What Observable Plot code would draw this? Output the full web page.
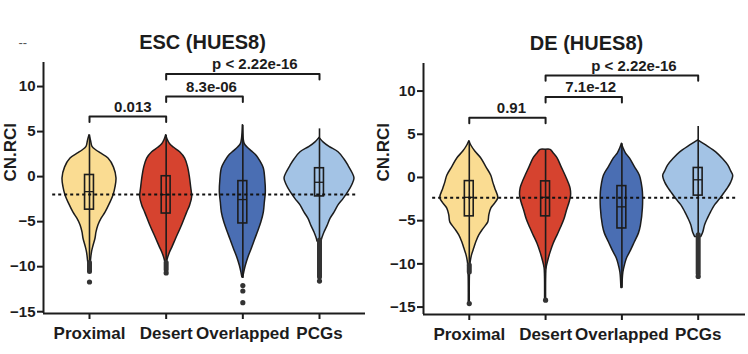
<!DOCTYPE html>
<html>
<head>
<meta charset="utf-8">
<script src="https://cdn.jsdelivr.net/npm/d3@7"></script>
<script src="https://cdn.jsdelivr.net/npm/@observablehq/plot@0.6"></script>
<style>
  html, body { margin: 0; padding: 0; background: #fff; }
  #wrap { display: flex; width: 748px; height: 354px; overflow: hidden; }
  #wrap > div { width: 374px; height: 354px; }
</style>
</head>
<body>
<div id="wrap"><div id="esc"></div><div id="de"></div></div>
<script>
// ---------- shared ----------
const categories = ["Proximal", "Desert", "Overlapped", "PCGs"];
const fills = ["#FADC92", "#D6432F", "#4A6EB3", "#A3C3E5"];
const yTicks = [-15, -10, -5, 0, 5, 10];

// ---------- ESC (HUES8) ----------
// violin profiles: [CN.RCI value, relative density (half width)]
const escProximal = [[4.6,0],[4.0,1.5],[3.3,3],[2.9,7],[2.6,11],[2.0,19],[1.0,24.5],[-0.2,27],[-1.2,26],[-2.1,24],[-3.0,20.5],[-4.0,16],[-4.7,12],[-5.4,9],[-6.2,7],[-6.9,6],[-7.7,4],[-8.4,2.5],[-9.3,1.5],[-10.3,0.5]];
const escDesert = [[4.6,0],[4.1,1.5],[3.6,4],[3.2,8],[2.7,14],[2.0,19],[1.0,22],[0.1,23.5],[-1.2,25],[-2.3,26],[-3.2,24],[-4.0,21],[-5.4,16],[-6.9,10],[-7.8,6.5],[-8.4,4],[-9.2,1.5],[-9.8,0.5]];
const escOverlapped = [[5.7,0],[4.2,0.8],[3.6,2],[3.2,5],[2.8,9],[2.3,14],[1.6,18],[0.9,21],[-0.4,22.5],[-1.8,23],[-2.9,22],[-4.0,21],[-5.1,18.5],[-6.2,15],[-7.1,12],[-8.0,9],[-9.0,5.5],[-9.9,3],[-10.6,1.5],[-11.2,0.5]];
const escPCGs = [[4.3,0],[3.8,4],[3.3,10],[2.7,19],[1.9,25],[1.2,29],[0.4,33],[-0.2,35],[-0.9,33],[-1.7,29],[-2.5,24],[-3.2,19],[-4.0,15],[-4.7,11],[-5.5,8],[-6.2,5],[-6.8,3],[-7.2,2]];
const escQ1 = [-3.67, -4.1, -5.2, -2.2];
const escMedian = [-1.67, -2.0, -2.55, -0.63];
const escQ3 = [0.18, 0.04, -0.5, 0.93];
const escWhiskerLow = [-9.6, -9.8, -11.3, -7.1];
const escWhiskerHigh = [4.6, 4.6, 5.7, 5.3];
const escOutliers = [[1,-11.7],[2,-10.7],[3,-12.1],[3,-12.7],[3,-14.0],[4,-11.6]];
const escDenseTails = [[1,-9.6,-10.6],[2,-9.6,-10.4],[4,-7.1,-11.2]];
const escReference = -2.0;
const escBrackets = [[1,2,6.67,"0.013"],[2,3,8.9,"8.3e-06"],[2,4,11.4,"p < 2.22e-16"]];

// ---------- DE (HUES8) ----------
const deProximal = [[4.2,0],[3.7,2],[3.0,6],[2.2,12],[1.2,17],[0.2,22],[-0.6,24],[-1.3,26],[-2.4,29],[-3.0,26],[-3.6,22],[-4.4,20],[-5.2,19],[-6.0,14],[-6.7,10],[-7.5,7],[-8.2,5],[-8.9,3],[-9.4,2],[-10.0,1.2],[-10.6,1],[-11.5,0.6],[-14.6,0.5]];
const deDesert = [[3.2,0],[3.2,5],[2.8,8],[2.2,12],[1.2,16],[0.2,20],[-0.6,23],[-1.3,25],[-2.1,25.5],[-2.9,24],[-3.8,21.5],[-4.8,19],[-5.8,15.5],[-6.7,12],[-7.7,8],[-8.7,5],[-9.5,3],[-10.5,1],[-11.5,0.6],[-14.2,0.5]];
const deOverlapped = [[3.9,0],[3.4,1.5],[2.8,4],[2.2,8],[1.2,13],[0.2,18],[-0.8,20],[-1.7,21],[-3.6,21],[-5.6,19],[-6.5,17],[-7.5,13],[-8.5,9],[-9.4,5],[-10.2,3],[-11.0,1.5],[-12.8,0.5]];
const dePCGs = [[4.3,0],[3.7,8],[2.9,18],[2.1,25],[1.4,30],[0.7,33],[0.2,35],[-0.6,33],[-1.2,30],[-1.7,27],[-2.5,22],[-3.2,17],[-4.0,13],[-4.7,10],[-5.5,7],[-6.4,5],[-6.9,3]];
const deQ1 = [-4.5, -4.5, -5.9, -2.1];
const deMedian = [-2.3, -2.3, -3.4, -0.27];
const deQ3 = [-0.42, -0.45, -1.0, 1.1];
const deWhiskerLow = [-10.0, -10.6, -12.8, -6.7];
const deWhiskerHigh = [4.2, 3.2, 3.9, 5.9];
const deOutliers = [[1,-14.6],[2,-14.2],[4,-11.45]];
const deDenseTails = [[1,-10.2,-11.0],[4,-6.7,-11.2]];
const deReference = -2.35;
const deBrackets = [[1,2,6.9,"0.91"],[2,3,9.3,"7.1e-12"],[2,4,11.8,"p < 2.22e-16"]];

const ink = "#1c1c1c";

function panel(o) {
  const k = o.widthScale;          // density -> x units
  const boxHalf = 0.058;
  const idx = categories.map((_, i) => i);
  const marks = [];
  // violins
  o.violins.forEach((arr, i) => {
    marks.push(Plot.areaX(arr, {
      y: d => d[0], x1: d => i + 1 - d[1] * k, x2: d => i + 1 + d[1] * k,
      fill: fills[i], stroke: ink, strokeWidth: 1.5, curve: "catmull-rom"
    }));
  });
  // whiskers
  marks.push(Plot.ruleX(idx, {x: i => i + 1, y1: i => o.lo[i], y2: i => o.hi[i], stroke: ink, strokeWidth: 1.6}));
  // dense outlier tails
  marks.push(Plot.ruleX(o.tails, {x: d => d[0], y1: d => d[1], y2: d => d[2], stroke: "#333", strokeWidth: 5, strokeLinecap: "round"}));
  // outliers
  marks.push(Plot.dot(o.outliers, {x: d => d[0], y: d => d[1], r: 2.6, fill: "#333"}));
  // boxes
  marks.push(Plot.rect(idx, {x1: i => i + 1 - boxHalf, x2: i => i + 1 + boxHalf, y1: i => o.q1[i], y2: i => o.q3[i], stroke: ink, strokeWidth: 1.6, fill: "none"}));
  marks.push(Plot.ruleY(idx, {y: i => o.med[i], x1: i => i + 1 - boxHalf, x2: i => i + 1 + boxHalf, stroke: ink, strokeWidth: 1.3}));
  // reference dotted line
  marks.push(Plot.ruleY([o.ref], {x1: () => 1 - 0.48, x2: () => categories.length + 0.5, stroke: "#111", strokeWidth: 2, strokeDasharray: "3,3"}));
  // significance brackets
  const drop = 0.62;
  const pts = o.brackets.flatMap((b, j) => [
    {x: b[0], y: b[2] - drop, z: j}, {x: b[0], y: b[2], z: j},
    {x: b[1], y: b[2], z: j}, {x: b[1], y: b[2] - drop, z: j}
  ]);
  marks.push(Plot.line(pts, {x: "x", y: "y", z: "z", stroke: ink, strokeWidth: 2}));
  o.brackets.forEach(b => {
    marks.push(Plot.text([b], {x: d => (d[0] + d[1]) / 2, y: d => d[2], text: d => d[3], dy: -9.5, dx: b[3].length, fontSize: 15, fontWeight: "bold", fill: ink}));
  });
  // axes
  marks.push(Plot.ruleX([o.xDomain[0]], {stroke: ink, strokeWidth: 2}));
  marks.push(Plot.ruleY([o.yDomain[0]], {stroke: ink, strokeWidth: 2}));
  marks.push(Plot.axisY({ticks: yTicks, tickSize: 6, tickPadding: 2, fontSize: 15, fontWeight: "bold", strokeWidth: 2, label: null}));
  marks.push(Plot.axisX({ticks: [1, 2, 3, 4], tickFormat: i => categories[i - 1], tickSize: 6, tickPadding: 7, fontSize: 17, fontWeight: "bold", strokeWidth: 2, label: null}));
  // title and y label
  marks.push(Plot.text([o.title], {text: d => d, frameAnchor: "top", dy: -28, dx: o.titleDx, fontSize: 20, fontWeight: "bold", fill: ink}));
  marks.push(Plot.text(["CN.RCI"], {text: d => d, frameAnchor: "left", rotate: -90, dx: o.labelDx, dy: o.labelDy, fontSize: 17, fontWeight: "bold", fill: ink}));
  if (o.extra) marks.push(o.extra);
  return Plot.plot({
    width: 374, height: 354,
    marginTop: o.mt, marginBottom: o.mb, marginLeft: o.ml, marginRight: o.mr,
    x: {type: "linear", domain: o.xDomain},
    y: {domain: o.yDomain},
    style: {fontFamily: "'Liberation Sans', Arial, sans-serif", color: ink, background: "#fff", overflow: "visible"},
    marks
  });
}

document.getElementById("esc").appendChild(panel({
  title: "ESC (HUES8)", titleDx: -2, labelDx: -33, labelDy: -6.5,
  violins: [escProximal, escDesert, escOverlapped, escPCGs], widthScale: 1 / 76.7,
  q1: escQ1, med: escMedian, q3: escQ3, lo: escWhiskerLow, hi: escWhiskerHigh,
  outliers: escOutliers, tails: escDenseTails, ref: escReference, brackets: escBrackets,
  xDomain: [0.4, 4.6], yDomain: [-15.2, 12.67], mt: 62, mb: 41, ml: 43, mr: 9,
  extra: Plot.text(["--"], {text: d => d, frameAnchor: "top-left", dx: -25, dy: -25, fontSize: 13, fill: "#555"})
}));

document.getElementById("de").appendChild(panel({
  title: "DE (HUES8)", titleDx: 2, labelDx: -40, labelDy: -7.5,
  violins: [deProximal, deDesert, deOverlapped, dePCGs], widthScale: 1 / 76.3,
  q1: deQ1, med: deMedian, q3: deQ3, lo: deWhiskerLow, hi: deWhiskerHigh,
  outliers: deOutliers, tails: deDenseTails, ref: deReference, brackets: deBrackets,
  xDomain: [0.4, 4.62], yDomain: [-15.86, 13.19], mt: 63, mb: 40, ml: 49, mr: 3
}));
</script>
</body>
</html>
